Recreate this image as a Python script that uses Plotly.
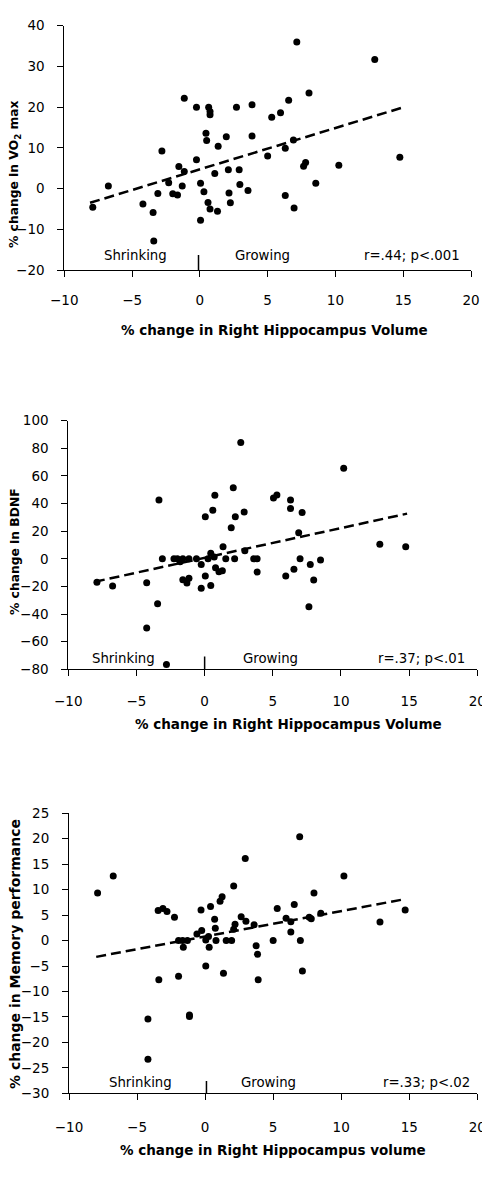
import plotly.graph_objects as go

# painel 1 - VO2 max
vo2_x = [-7.9, -6.75, -4.2, -3.45, -3.4, -2.8, -3.1, -2.3, -2.0, -1.65, -1.55, -1.3, -1.15, -1.15,
         -0.25, -0.25, 0.05, 0.3, 0.05, 0.45, 0.5, 0.65, 0.75, 0.75, 0.6, 0.75, 1.3, 1.1, 1.35,
         1.95, 2.1, 2.15, 2.25, 2.7, 2.9, 2.95, 3.55, 3.85, 3.85, 5.0, 5.3, 5.95, 6.3, 6.3, 6.55,
         6.9, 6.95, 7.15, 7.65, 7.8, 8.05, 8.55, 10.25, 12.9, 14.75]
vo2_y = [-4.6, 0.6, -3.8, -5.9, -12.9, 9.2, -1.2, 1.4, -1.3, -1.6, 5.4, 0.6, 22.2, 4.2,
         20.0, 7.1, 1.3, -0.8, -7.8, 13.6, 11.8, 20.0, 18.9, 18.1, -3.4, -5.0, -5.6, 3.7, 10.4,
         12.7, 4.6, -1.1, -3.5, 20.0, 4.6, 1.0, -0.5, 20.6, 12.9, 8.0, 17.5, 18.6, -1.7, 9.9, 21.7,
         11.9, -4.8, 36.0, 5.5, 6.4, 23.5, 1.3, 5.7, 31.7, 7.7]
vo2_trend_x = [-8.1, 14.85]
vo2_trend_y = [-3.5, 19.8]
vo2_split_x = [-0.1, -0.1]
vo2_split_y = [-20, -16.3]

# painel 2 - BDNF
bdnf_x = [-7.9, -6.75, -4.25, -4.25, -3.35, -3.45, -3.1, -2.8, -2.25, -2.0, -1.8, -1.6, -1.6,
          -1.3, -1.15, -1.15, -0.6, -0.25, -0.25, 0.05, 0.05, 0.25, 0.45, 0.45, 0.6, 0.75, 0.7,
          0.8, 1.05, 1.3, 1.35, 1.55, 1.95, 2.1, 2.2, 2.25, 2.65, 2.9, 2.95, 3.6, 3.85, 3.85,
          5.05, 5.3, 5.95, 6.3, 6.3, 6.55, 6.9, 7.0, 7.15, 7.65, 7.75, 8.0, 8.5, 10.2, 12.85, 14.75]
bdnf_y = [-17.0, -19.7, -17.3, -50.1, 42.6, -32.5, 0, -76.6, 0, 0, -2.1, 0, -15.1,
          -17.5, -14.1, 0, 0, -4.2, -21.4, 30.5, -12.5, 0, 4.0, -19.4, 35.1, 46.0, 1.4,
          -6.4, -9.3, -8.6, 8.8, 0, 22.5, 51.5, 0, 30.5, 84.3, 33.9, 5.9, 0, 0, -9.6,
          44.0, 46.2, -12.5, 42.6, 36.5, -7.6, 18.9, 0, 33.6, -34.7, -4.2, -15.3, -0.8, 65.5, 10.5, 8.8]
bdnf_trend_x = [-8.05, 14.85]
bdnf_trend_y = [-16.6, 32.7]
bdnf_split_x = [0, 0]
bdnf_split_y = [-80, -70.8]

# painel 3 - memoria
mem_x = [-7.9, -6.75, -4.2, -4.2, -3.45, -3.4, -3.1, -2.8, -2.25, -1.95, -1.95, -1.6, -1.65,
         -1.3, -1.15, -1.15, -0.6, -0.3, -0.25, 0.05, 0.05, 0.3, 0.4, 0.25, 0.7, 0.75, 0.8,
         1.1, 1.25, 1.35, 1.55, 1.95, 2.1, 2.2, 2.1, 2.65, 2.95, 3.0, 3.6, 3.75, 3.85, 3.9,
         5.0, 5.3, 5.95, 6.3, 6.3, 6.55, 6.95, 7.0, 7.15, 7.65, 7.8, 8.0, 8.5, 10.2, 12.85, 14.7]
mem_y = [9.35, 12.7, -15.4, -23.3, 5.9, -7.7, 6.3, 5.7, 4.6, -7.0, 0, -1.3, 0,
         0, -14.9, -14.6, 1.3, 6.0, 2.0, 0.1, -5.0, -1.3, 6.7, 0.8, 4.2, 2.4, 0,
         7.7, 8.6, -6.4, 0, 0, 10.7, 3.2, 2.2, 4.7, 16.1, 3.8, 3.1, -1.0, -2.7, -7.7,
         0, 6.3, 4.4, 3.7, 1.7, 7.1, 20.4, 0, -6.0, 4.6, 4.3, 9.35, 5.35, 12.7, 3.65, 6.0]
mem_trend_x = [-8.0, 14.6]
mem_trend_y = [-3.2, 8.1]
mem_split_x = [0.1, 0.1]
mem_split_y = [-30, -27.6]

notes = ["r=.44; p<.001", "r=.37; p<.01", "r=.33; p<.02"]
y_titles = ["% change in VO<sub>2</sub> max", "% change in BDNF", "% change in Memory performance"]
x_titles = ["% change in Right Hippocampus Volume", "% change in Right Hippocampus Volume",
            "% change in Right Hippocampus volume"]
y_ranges = [[-20, 40], [-80, 100], [-30, 25]]
y_dticks = [10, 20, 5]

# tamanho da janela; a pagina tem margem de 8px no body
W, H, M = 490, 1195, 8
FW, FH = W - M, H - M

def px(x):
    return (x - M) / FW

def py(y):
    return 1 - (y - M) / FH

# caixas dos paineis em pixels da janela (esq, dir, topo, base)
caixas = [(64.3, 471, 25.7, 270), (68.3, 477.3, 420.7, 669.3), (69, 477.3, 813.3, 1093.3)]
# textos Shrinking, Growing, r  -> (x's, y)
textos_px = [((135, 262, 412), 256), ((123, 270, 421), 658), ((140, 268, 426), 1082)]
xtitle_px = [(274, 330), (288, 724), (273, 1150)]
ytitle_px = [(15, 174), (15, 552), (15, 954)]
ytitle_size = [12.3, 12.3, 14]
xlabel_off = [12, 13, 15]

fonte = "DejaVu Sans"
paineis = [(vo2_x, vo2_y, vo2_trend_x, vo2_trend_y, vo2_split_x, vo2_split_y),
           (bdnf_x, bdnf_y, bdnf_trend_x, bdnf_trend_y, bdnf_split_x, bdnf_split_y),
           (mem_x, mem_y, mem_trend_x, mem_trend_y, mem_split_x, mem_split_y)]

fig = go.Figure()
anots = []

def texto(txt, x, y, size, angle=0):
    return dict(text=txt, x=px(x), y=py(y), xref="paper", yref="paper", showarrow=False,
                xanchor="center", yanchor="middle", textangle=angle,
                font=dict(family=fonte, size=size, color="black"))

for i, (dx, dy, tx, ty, sx, sy) in enumerate(paineis):
    n = "" if i == 0 else str(i + 1)
    xa, ya = "x" + n, "y" + n
    fig.add_trace(go.Scatter(x=dx, y=dy, mode="markers", xaxis=xa, yaxis=ya,
                             marker=dict(color="black", size=7)))
    fig.add_trace(go.Scatter(x=tx, y=ty, mode="lines", xaxis=xa, yaxis=ya,
                             line=dict(color="black", width=2.5, dash="10px,5px")))
    fig.add_trace(go.Scatter(x=sx, y=sy, mode="lines", xaxis=xa, yaxis=ya,
                             line=dict(color="black", width=1.5)))

    l, r, t, b = caixas[i]
    eixo = dict(showgrid=False, zeroline=False, showline=True, linecolor="black", linewidth=1,
                ticks="outside", ticklen=6, tickcolor="black", automargin=False,
                tickfont=dict(family=fonte, size=13.5, color="black"))
    fig.layout["xaxis" + n] = dict(eixo, domain=[px(l), px(r)], range=[-10, 20], dtick=5,
                                   anchor=ya, ticklabelstandoff=xlabel_off[i])
    fig.layout["yaxis" + n] = dict(eixo, domain=[py(b), py(t)], range=y_ranges[i],
                                   dtick=y_dticks[i], anchor=xa, ticklabelstandoff=10)

    (xs, xg, xr), yt = textos_px[i]
    for txt, xx in [("Shrinking", xs), ("Growing", xg), (notes[i], xr)]:
        anots.append(texto(txt, xx, yt, 13.3))
    anots.append(texto("<b>" + x_titles[i] + "</b>", *xtitle_px[i], 13.5))
    anots.append(texto("<b>" + y_titles[i] + "</b>", *ytitle_px[i], ytitle_size[i], -90))

fig.update_layout(template="none", width=FW, height=FH, margin=dict(l=0, r=0, t=0, b=0, pad=0),
                  showlegend=False, plot_bgcolor="white", paper_bgcolor="white", annotations=anots)

fig.write_html("out.html")
